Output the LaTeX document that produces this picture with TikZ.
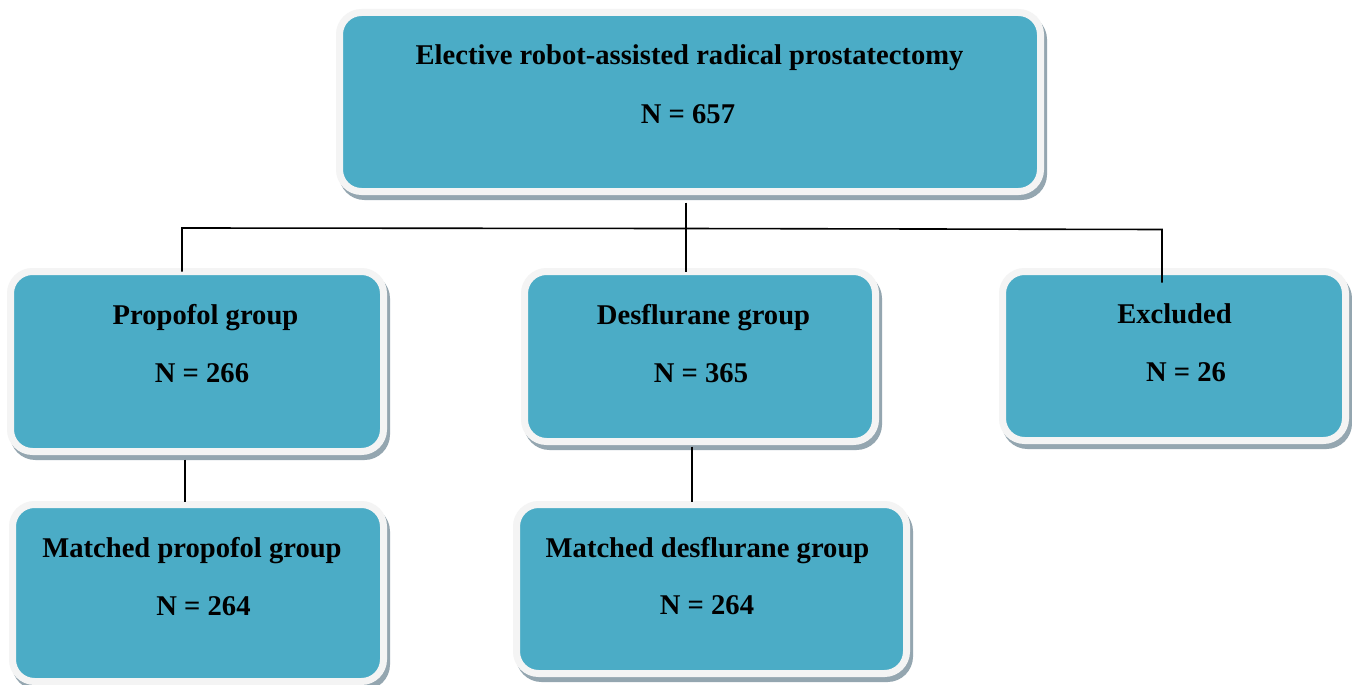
\documentclass[tikz,border=0pt]{standalone}
\usepackage{fontspec}
\setmainfont{Liberation Serif}
\definecolor{teal1}{RGB}{75,172,198}
\definecolor{rim}{RGB}{244,244,244}
\definecolor{shadowc}{RGB}{148,166,176}
\begin{document}
\begin{tikzpicture}[x=1pt,y=-1pt,
  box/.style={rectangle, rounded corners=22pt, fill=teal1, draw=rim, line width=7pt,
    inner sep=0pt, outer sep=0pt,
    preaction={draw=shadowc, fill=shadowc, line width=7pt, transform canvas={shift={(3pt,-5pt)}}}},
  lbl/.style={anchor=base, inner sep=0pt, font=\bfseries\fontsize{28.6}{32}\selectfont},
  conn/.style={draw=black, line width=1.6pt}]
\useasboundingbox[fill=white] (0,0) rectangle (1352,685);

% boxes
\node[box, minimum width=701pt, minimum height=179pt] (top) at (690,102) {};
\node[box, minimum width=373pt, minimum height=180pt] (prop) at (197,361.5) {};
\node[box, minimum width=351pt, minimum height=170pt] (desf) at (700,356.5) {};
\node[box, minimum width=343pt, minimum height=169pt] (excl) at (1174,356) {};
\node[box, minimum width=371pt, minimum height=177pt] (mprop) at (198,593) {};
\node[box, minimum width=390pt, minimum height=169pt] (mdesf) at (711.5,589) {};

% texts
\node[lbl] (t1) at (689.5,65) {Elective robot-assisted radical prostatectomy};
\node[lbl] (t2) at (688,123) {N = 657};
\node[lbl] (p1) at (205.5,324) {Propofol group};
\node[lbl] (p2) at (202,382) {N = 266};
\node[lbl] (d1) at (703.5,324) {Desflurane group};
\node[lbl] (d2) at (701,382) {N = 365};
\node[lbl] (e1) at (1174.5,323) {Excluded};
\node[lbl] (e2) at (1186,381) {N = 26};
\node[lbl] (m1) at (192,557) {Matched propofol group};
\node[lbl] (m2) at (203.5,615) {N = 264};
\node[lbl] (n1) at (707.5,557) {Matched desflurane group};
\node[lbl] (n2) at (707,614) {N = 264};

% connectors
\coordinate (bL) at (182,228);
\coordinate (bM) at (686,228.5);
\coordinate (bR) at (1162,229.5);
\draw[conn] ([yshift=-11pt]bM |- top.south) -- (bM);
\draw[conn] (bL |- prop.north) -- (bL) -- (bM) -- (bR) -- ([yshift=-11pt]bR |- excl.north);
\draw[conn] (bM) -- (bM |- desf.north);
\draw[conn] ([yshift=-8pt]185,0 |- prop.south) -- ([yshift=3pt]185,0 |- mprop.north);
\draw[conn] ([yshift=-5pt]692,0 |- desf.south) -- ([yshift=3pt]692,0 |- mdesf.north);
\end{tikzpicture}
\end{document}
